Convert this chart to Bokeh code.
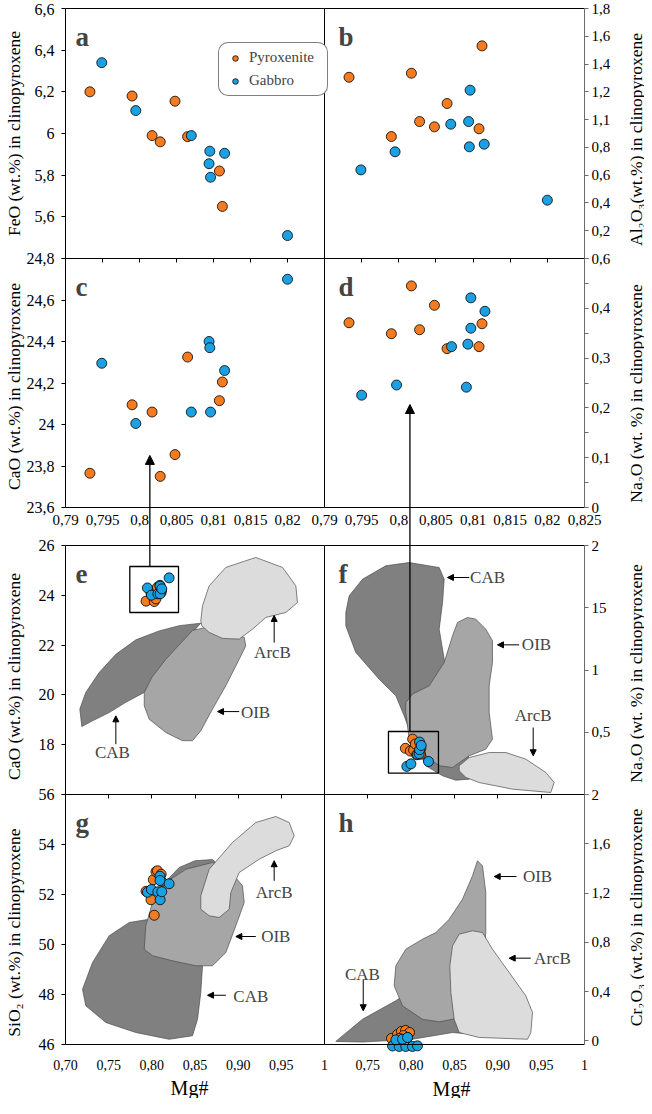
from bokeh.plotting import figure
from bokeh.models import (Range1d, LinearAxis, FixedTicker, Label, Arrow,
                          NormalHead, Legend, LegendItem, Grid)
from bokeh.embed import file_html
from bokeh.resources import INLINE

# ---------------- data ----------------
mg_pyx = [0.7933, 0.7990, 0.8017, 0.8028, 0.8048, 0.8065, 0.8108, 0.8112]
mg_gab = [0.7949, 0.7995, 0.8070, 0.8094, 0.8095, 0.8096, 0.8115, 0.8200]

feo_pyx = [6.20, 6.18, 5.99, 5.96, 6.155, 5.985, 5.82, 5.65]
feo_gab = [6.34, 6.11, 5.99, 5.855, 5.915, 5.79, 5.905, 5.51]

al2o3_pyx = [1.305, 0.878, 1.334, 0.986, 0.948, 1.116, 0.934, 1.531]
al2o3_gab = [0.638, 0.768, 0.967, 0.986, 0.804, 1.212, 0.823, 0.420]

cao_pyx = [23.765, 24.095, 24.06, 23.75, 23.855, 24.325, 24.115, 24.205]
cao_gab = [24.295, 24.005, 24.06, 24.40, 24.37, 24.06, 24.26, 24.70]

na2o_pyx = [0.371, 0.349, 0.445, 0.357, 0.406, 0.319, 0.323, 0.369]
mg_gab_d = [0.7950, 0.7997, 0.8071, 0.8091, 0.8093, 0.8097, 0.8097, 0.8116]
na2o_gab_d = [0.2255, 0.246, 0.323, 0.2416, 0.328, 0.421, 0.360, 0.394]
mg_gab_f = [0.7950, 0.7997, 0.8071, 0.8200, 0.8093, 0.8097, 0.8097, 0.8116]
na2o_gab_f = [0.2255, 0.246, 0.323, 0.265, 0.328, 0.421, 0.360, 0.394]

sio2_pyx = [52.13, 51.79, 52.59, 51.17, 52.91, 52.95, 52.81, 52.53]
sio2_gab = [52.09, 52.20, 52.11, 52.73, 52.56, 51.79, 52.11, 52.43]

mg_pyx_h = [0.7773, 0.7842, 0.7888, 0.7935, 0.7981, 0.7912, 0.7958, 0.7865]
cr2o3_pyx = [0.019, 0.051, 0.076, 0.084, 0.067, 0.043, 0.027, 0.019]
mg_gab_h = [0.7785, 0.7862, 0.7938, 0.8015, 0.8073, 0.7823, 0.7900, 0.7958]
cr2o3_gab = [-0.042, -0.046, -0.046, -0.046, -0.041, 0.008, 0.013, 0.027]

# discrimination fields (Mg#, oxide)
e_cab_x = [0.7189, 0.7166, 0.7235, 0.7390, 0.7583, 0.7815, 0.8085, 0.8317, 0.8567,
           0.8471, 0.8162, 0.7912, 0.7698, 0.7506, 0.7313]
e_cab_y = [18.73, 19.43, 20.10, 20.90, 21.63, 22.21, 22.57, 22.78, 22.88,
           22.51, 21.43, 20.10, 19.70, 19.29, 18.96]
e_oib_x = [0.8471, 0.8162, 0.8000, 0.7912, 0.7912, 0.7970, 0.8162, 0.8355, 0.8471,
           0.8567, 0.8703, 0.8857, 0.9012, 0.9088, 0.9070, 0.8973, 0.8800, 0.8625]
e_oib_y = [22.59, 21.43, 20.70, 20.10, 19.56, 19.02, 18.49, 18.16, 18.16,
           18.56, 19.43, 20.37, 21.43, 21.97, 22.31, 22.44, 22.55, 22.71]
e_arc_x = [0.8567, 0.8587, 0.8664, 0.8857, 0.9204, 0.9514, 0.9668, 0.9687,
           0.9552, 0.9320, 0.9166, 0.9012, 0.8819, 0.8664, 0.8579]
e_arc_y = [22.98, 23.58, 24.38, 25.12, 25.52, 25.12, 24.38, 23.71,
           23.31, 23.11, 22.64, 22.24, 22.27, 22.51, 22.78]

f_cab_x = [0.7977, 0.8323, 0.8381, 0.8362, 0.8323, 0.8381, 0.8592, 0.8708, 0.8670,
           0.8515, 0.8362, 0.8169, 0.7977, 0.7919, 0.7823, 0.7631, 0.7361, 0.7246,
           0.7246, 0.7285, 0.7438, 0.7707]
f_cab_y = [1.863, 1.823, 1.729, 1.542, 1.328, 1.087, 0.498, 0.177, 0.123,
           0.115, 0.150, 0.231, 0.524, 0.632, 0.793, 0.926, 1.141, 1.355,
           1.462, 1.596, 1.729, 1.837]
f_oib_x = [0.8650, 0.8746, 0.8861, 0.8938, 0.8938, 0.8900, 0.8900, 0.8938, 0.8861,
           0.8670, 0.8477, 0.8323, 0.8131, 0.7977, 0.7938, 0.7938, 0.8015, 0.8208,
           0.8381, 0.8477, 0.8535]
f_oib_y = [1.422, 1.408, 1.328, 1.235, 1.060, 0.873, 0.659, 0.444, 0.364,
           0.311, 0.217, 0.231, 0.337, 0.444, 0.659, 0.739, 0.806, 0.873,
           1.060, 1.275, 1.382]
f_arc_x = [0.8554, 0.8669, 0.8900, 0.9092, 0.9323, 0.9554, 0.9650, 0.9611,
           0.9169, 0.8785, 0.8631, 0.8554]
f_arc_y = [0.231, 0.297, 0.337, 0.337, 0.284, 0.177, 0.096, 0.016,
           0.043, 0.096, 0.137, 0.190]

g_cab_x = [0.7197, 0.7313, 0.7506, 0.7738, 0.7969, 0.8100, 0.8317, 0.8500, 0.8703,
           0.8795, 0.8645, 0.8587, 0.8567, 0.8529, 0.8471, 0.8201, 0.7814, 0.7467, 0.7235]
g_cab_y = [48.21, 49.28, 50.35, 50.88, 51.01, 52.30, 53.08, 53.35, 53.40,
           53.10, 49.68, 49.15, 48.08, 47.01, 46.35, 46.21, 46.48, 46.88, 47.55]
g_oib_x = [0.7912, 0.7930, 0.8008, 0.8162, 0.8394, 0.8703, 0.8857, 0.9050, 0.9070,
           0.8973, 0.8857, 0.8703, 0.8510, 0.8239, 0.8008]
g_oib_y = [49.81, 50.75, 51.68, 52.48, 53.01, 53.28, 53.15, 52.35, 51.68,
           50.75, 49.68, 49.15, 49.15, 49.35, 49.55]
g_arc_x = [0.8567, 0.8567, 0.8664, 0.8934, 0.9204, 0.9436, 0.9591, 0.9649, 0.9591,
           0.9436, 0.9243, 0.9012, 0.8915, 0.8896, 0.8780, 0.8664]
g_arc_y = [51.41, 51.95, 53.01, 54.08, 54.88, 55.12, 54.88, 54.35, 53.95,
           53.75, 53.41, 52.88, 52.08, 51.41, 51.08, 51.15]

h_cab_x = [0.7130, 0.7438, 0.7823, 0.8131, 0.8419, 0.8600, 0.8600, 0.8477, 0.8015, 0.7438]
h_cab_y = [-0.005, 0.175, 0.325, 0.473, 0.514, 0.200, 0.060, 0.067, 0.013, -0.010]
h_oib_x = [0.8765, 0.8823, 0.8861, 0.8861, 0.8823, 0.8592, 0.8477, 0.8323, 0.8131,
           0.7900, 0.7804, 0.7823, 0.7938, 0.8131, 0.8285, 0.8439, 0.8592, 0.8708]
h_oib_y = [1.462, 1.421, 1.204, 0.879, 0.555, 0.230, 0.175, 0.154, 0.175,
           0.284, 0.447, 0.609, 0.744, 0.825, 0.879, 0.987, 1.150, 1.340]
h_arc_x = [0.8477, 0.8554, 0.8708, 0.8823, 0.8938, 0.9131, 0.9323, 0.9400, 0.9381,
           0.9342, 0.8785, 0.8554, 0.8496, 0.8458, 0.8446]
h_arc_y = [0.771, 0.866, 0.893, 0.879, 0.744, 0.555, 0.365, 0.230, 0.067,
           0.013, 0.027, 0.067, 0.175, 0.392, 0.609]

# zoom boxes (Mg#, oxide)
box_e = (0.7745, 0.8309, 23.31, 25.157)
box_f = (0.7738, 0.8315, 0.171, 0.506)

# ticks and tick labels
ticks_a_y = [5.4, 5.6, 5.8, 6.0, 6.2, 6.4, 6.6]
labels_a_y = [" ", "5,6", "5,8", "6", "6,2", "6,4", "6,6"]
ticks_c_y = [23.6, 23.8, 24.0, 24.2, 24.4, 24.6, 24.8]
labels_c_y = ["23,6", "23,8", "24", "24,2", "24,4", "24,6", "24,8"]
ticks_e_y = [16, 18, 20, 22, 24, 26]
labels_e_y = [" ", "18", "20", "22", "24", "26"]
ticks_g_y = [46, 48, 50, 52, 54, 56]
labels_g_y = ["46", "48", "50", "52", "54", "56"]
ticks_b_y = [0.0, 0.2, 0.4, 0.6, 0.8, 1.0, 1.2, 1.4, 1.6, 1.8]
labels_b_y = ["0,6", "0,2", "0,4", "0,6", "0,8", "1,1", "1,2", "1,4", "1,6", "1,8"]
ticks_d_y = [0.0, 0.05, 0.1, 0.15, 0.2, 0.25, 0.3, 0.35, 0.4, 0.45, 0.5]
labels_d_y = ["0", " ", "0,1", " ", "0,2", " ", "0,3", " ", "0,4", " ", " "]
ticks_f_y = [0.0, 0.5, 1.0, 1.5, 2.0]
labels_f_y = [" ", "0,5", "1", "15", "2"]
ticks_h_y = [0.0, 0.4, 0.8, 1.2, 1.6, 2.0]
labels_h_y = ["0", "0,4", "0,8", "1,2", "1,6", "2"]
ticks_top_x = [0.795, 0.8, 0.805, 0.81, 0.815, 0.82]
ticks_c_x = [0.79, 0.795, 0.8, 0.805, 0.81, 0.815, 0.82]
labels_c_x = ["0,79", "0,795", "0,8", "0,805", "0,81", "0,815", "0,82"]
ticks_d_x = [0.79, 0.795, 0.8, 0.805, 0.81, 0.815, 0.82, 0.825]
labels_d_x = ["0,79", "0,795", "0,8", "0,805", "0,81", "0,815", "0,82", "0,825"]
ticks_ef_x = [0.75, 0.8, 0.85, 0.9, 0.95]
ticks_g_x = [0.70, 0.75, 0.80, 0.85, 0.90, 0.95]
labels_g_x = ["0,70", "0,75", "0,80", "0,85", "0,90", "0,95"]
ticks_h_x = [0.70, 0.75, 0.80, 0.85, 0.90, 0.95, 1.0]
labels_h_x = ["1", "0,75", "0,80", "0,85", "0,90", "0,95", "1"]

# ---------------- styling / layout ----------------
ORANGE = "#F47B20"
BLUE = "#1BA1E2"
CAB_C, OIB_C, ARC_C = "#808080", "#A6A6A6", "#DCDCDC"
SERIF = "Liberation Serif"

W, H = 644, 1098
PX0, PY0 = 8, 8
PX1, PY1 = PX0 + W, PY0 + H

# panel frames in page pixels and their data extents
panels = {
    "a": dict(px=(73, 332), py=(16, 266), xr=(0.79, 0.825), yr=(5.4, 6.6)),
    "b": dict(px=(332, 592), py=(16, 266), xr=(0.79, 0.825), yr=(0.0, 1.8)),
    "c": dict(px=(73, 332), py=(266, 515), xr=(0.79, 0.825), yr=(23.6, 24.8)),
    "d": dict(px=(332, 592), py=(266, 515), xr=(0.79, 0.825), yr=(0.0, 0.5)),
    "e": dict(px=(73, 332), py=(553, 802), xr=(0.70, 1.00), yr=(16.0, 26.0)),
    "f": dict(px=(332, 592), py=(553, 802), xr=(0.70, 1.00), yr=(0.0, 2.0)),
    "g": dict(px=(73, 332), py=(802, 1052), xr=(0.70, 1.00), yr=(46.0, 56.0)),
    "h": dict(px=(332, 592), py=(802, 1052), xr=(0.70, 1.00), yr=(-0.03, 2.0)),
}

p = figure(width=W, height=H, x_range=Range1d(PX0, PX1), y_range=Range1d(PY1, PY0),
           x_axis_location=None, y_axis_location=None, toolbar_location=None,
           output_backend="svg", min_border=0, outline_line_color=None,
           background_fill_color="white", border_fill_color="white")
for g in p.select({"type": Grid}):
    g.visible = False
p.xgrid.visible = False
p.ygrid.visible = False

exr, eyr = {}, {}
for k, P in panels.items():
    (X0, X1), (Y0, Y1), (d0, d1), (e0, e1) = P["px"], P["py"], P["xr"], P["yr"]
    s = (d1 - d0) / (X1 - X0)
    exr[k] = Range1d(d0 - (X0 - PX0) * s, d0 + (PX1 - X0) * s)
    t = (e1 - e0) / (Y1 - Y0)
    eyr[k] = Range1d(e0 - (PY1 - Y1) * t, e0 + (Y1 - PY0) * t)
p.extra_x_ranges = exr
p.extra_y_ranges = eyr


def add_axis(panel, side, ticks=(), labels=None, tick_out=0, color="black",
             font_size="15px", standoff=6, label_color="black"):
    P = panels[panel]
    d0, d1 = P["xr"]
    e0, e1 = P["yr"]
    if side in ("left", "right"):
        loc = d0 if side == "left" else d1
        lo, hi = e0, e1
    else:
        loc = e0 if side == "below" else e1
        lo, hi = d0, d1
    eps = (hi - lo) * 1e-6
    ax = LinearAxis(x_range_name=panel, y_range_name=panel, fixed_location=loc,
                    bounds=(lo - eps, hi + eps),
                    ticker=FixedTicker(ticks=list(ticks), minor_ticks=[]),
                    major_tick_out=tick_out, major_tick_in=0,
                    minor_tick_line_color=None,
                    axis_line_color=color, axis_line_width=1,
                    major_tick_line_color=(color if tick_out else None),
                    major_label_standoff=standoff,
                    major_label_text_font=SERIF,
                    major_label_text_font_size=font_size,
                    major_label_text_color=label_color)
    if labels is None:
        ax.major_label_text_color = None
    else:
        ax.major_label_overrides = dict(zip(ticks, labels))
    p.add_layout(ax, side)


def fields(panel, cab, oib, arc):
    for (xs, ys), col in ((cab, CAB_C), (oib, OIB_C), (arc, ARC_C)):
        p.patch(xs, ys, x_range_name=panel, y_range_name=panel, fill_color=col,
                line_color="#4d4d4d", line_width=0.7)


fields("e", (e_cab_x, e_cab_y), (e_oib_x, e_oib_y), (e_arc_x, e_arc_y))
fields("f", (f_cab_x, f_cab_y), (f_oib_x, f_oib_y), (f_arc_x, f_arc_y))
fields("g", (g_cab_x, g_cab_y), (g_oib_x, g_oib_y), (g_arc_x, g_arc_y))
fields("h", (h_cab_x, h_cab_y), (h_oib_x, h_oib_y), (h_arc_x, h_arc_y))


def pts(panel, x, y, color):
    return p.scatter(x, y, x_range_name=panel, y_range_name=panel, marker="circle",
                     size=10, fill_color=color, line_color="black", line_width=0.8)


r_pyx = pts("a", mg_pyx, feo_pyx, ORANGE)
r_gab = pts("a", mg_gab, feo_gab, BLUE)
pts("b", mg_pyx, al2o3_pyx, ORANGE); pts("b", mg_gab, al2o3_gab, BLUE)
pts("c", mg_pyx, cao_pyx, ORANGE); pts("c", mg_gab, cao_gab, BLUE)
pts("d", mg_pyx, na2o_pyx, ORANGE); pts("d", mg_gab_d, na2o_gab_d, BLUE)
pts("e", mg_pyx, cao_pyx, ORANGE); pts("e", mg_gab, cao_gab, BLUE)
pts("f", mg_pyx, na2o_pyx, ORANGE); pts("f", mg_gab_f, na2o_gab_f, BLUE)
pts("g", mg_pyx, sio2_pyx, ORANGE); pts("g", mg_gab, sio2_gab, BLUE)
pts("h", mg_pyx_h, cr2o3_pyx, ORANGE); pts("h", mg_gab_h, cr2o3_gab, BLUE)

for panel, (l, r, b, t) in (("e", box_e), ("f", box_f)):
    p.quad(left=[l], right=[r], bottom=[b], top=[t], x_range_name=panel,
           y_range_name=panel, fill_color=None, line_color="black", line_width=1.3)

# ---------------- axes ----------------
GRAY = "#6b6b6b"
add_axis("a", "left", ticks_a_y, labels_a_y, tick_out=4, font_size="16px", standoff=7)
add_axis("c", "left", ticks_c_y, labels_c_y, tick_out=4, font_size="16px", standoff=7)
add_axis("e", "left", ticks_e_y, labels_e_y, tick_out=4, font_size="16px", standoff=7)
add_axis("g", "left", ticks_g_y, labels_g_y, tick_out=4, font_size="16px", standoff=7)
add_axis("b", "right", ticks_b_y, labels_b_y, tick_out=4, color=GRAY, font_size="15px", standoff=3)
add_axis("d", "right", ticks_d_y, labels_d_y, tick_out=4, color=GRAY, font_size="15px", standoff=3)
add_axis("f", "right", ticks_f_y, labels_f_y, tick_out=4, color=GRAY, font_size="15px", standoff=3)
add_axis("h", "right", ticks_h_y, labels_h_y, tick_out=4, color=GRAY, font_size="15px", standoff=3)
for k in ("a", "c", "e", "g"):
    add_axis(k, "right")
for k in ("a", "b", "e", "f"):
    add_axis(k, "above")
add_axis("a", "below", ticks_top_x, None, tick_out=4)
add_axis("b", "below", ticks_top_x, None, tick_out=4)
add_axis("e", "below", ticks_ef_x, None, tick_out=4)
add_axis("f", "below", ticks_ef_x, None, tick_out=4)
add_axis("c", "below", ticks_c_x, labels_c_x, font_size="15px", standoff=7)
add_axis("d", "below", ticks_d_x, labels_d_x, font_size="15px", standoff=7)
add_axis("g", "below", ticks_g_x, labels_g_x, font_size="14px", standoff=15)
add_axis("h", "below", ticks_h_x, labels_h_x, font_size="14px", standoff=15)

# ---------------- texts ----------------
def title(x, y, text, angle=90, size="17.5px"):
    p.add_layout(Label(x=x, y=y, text=text, angle=angle, angle_units="deg",
                       text_align="center", text_baseline="middle",
                       text_font=SERIF, text_font_size=size, text_color="black"))


title(21, 141, "FeO (wt.%) in clinopyroxene")
title(21, 394, "CaO (wt.%) in clinopyroxene")
title(21, 684, "CaO (wt.%) in clinopyroxene")
title(21, 940, "SiO\u2082 (wt.%) in clinopyroxene")
title(643, 147, "Al\u2082O\u2083(wt.%) in clinopyroxene")
title(643, 401, "Na\u2082O (wt. %) in clinopyroxene")
title(643, 681, "Na\u2082O (wt. %) in clinopyroxene")
title(643, 925, "Cr\u2082O\u2083 (wt.%) in clinopyroxene")
title(197, 1095, "Mg#", angle=0, size="20px")
title(459, 1096, "Mg#", angle=0, size="20px")

for k in panels:
    (X0, X1), (Y0, Y1) = panels[k]["px"], panels[k]["py"]
    dx = 10 if X0 < 300 else 14
    p.add_layout(Label(x=X0 + dx, y=Y0 + 28, text=k, text_font=SERIF,
                       text_font_style="bold", text_font_size="27px",
                       text_baseline="alphabetic", text_align="left"))

field_labels = {
    "e": [("ArcB", 0.9398, 21.70, (0.9417, 22.10, 0.9417, 23.19)),
          ("OIB", 0.9201, 19.29, (0.9012, 19.33, 0.8761, 19.33)),
          ("CAB", 0.7544, 17.69, (0.7583, 18.02, 0.7583, 19.16))],
    "f": [("CAB", 0.8881, 1.743, (0.8670, 1.743, 0.8419, 1.743)),
          ("OIB", 0.9446, 1.207, (0.9246, 1.202, 0.8996, 1.202)),
          ("ArcB", 0.9408, 0.632, (0.9408, 0.538, 0.9408, 0.311))],
    "g": [("ArcB", 0.9417, 52.08, (0.9417, 52.55, 0.9417, 53.35)),
          ("OIB", 0.9436, 50.32, (0.9204, 50.32, 0.8973, 50.32)),
          ("CAB", 0.9146, 47.92, (0.8857, 47.97, 0.8645, 47.97))],
    "h": [("OIB", 0.9458, 1.334, (0.9215, 1.334, 0.8958, 1.334)),
          ("ArcB", 0.9631, 0.671, (0.9380, 0.671, 0.9131, 0.671)),
          ("CAB", 0.7438, 0.541, (0.7447, 0.500, 0.7447, 0.244))],
}
for k, items in field_labels.items():
    for txt, tx, ty, (x0, y0, x1, y1) in items:
        p.add_layout(Label(x=tx, y=ty, text=txt, x_range_name=k, y_range_name=k,
                           text_align="center", text_baseline="middle",
                           text_font=SERIF, text_font_size="17px"))
        p.add_layout(Arrow(x_start=x0, y_start=y0, x_end=x1, y_end=y1,
                           x_range_name=k, y_range_name=k, line_width=1,
                           end=NormalHead(size=6, fill_color="black", line_color="black")))

p.add_layout(Arrow(x_start=0.8014, y_start=23.316, x_end=0.8014, y_end=23.851,
                   x_range_name="c", y_range_name="c", line_width=1.3,
                   end=NormalHead(size=9, fill_color="black", line_color="black")))
p.add_layout(Arrow(x_start=0.8015, y_start=-0.4498, x_end=0.8015, y_end=0.2068,
                   x_range_name="d", y_range_name="d", line_width=1.3,
                   end=NormalHead(size=9, fill_color="black", line_color="black")))

legend = Legend(items=[LegendItem(label="Pyroxenite", renderers=[r_pyx]),
                       LegendItem(label="Gabbro", renderers=[r_gab])],
                location=(218, 1002), orientation="vertical",
                label_text_font=SERIF, label_text_font_size="15px",
                glyph_width=20, glyph_height=14, label_standoff=4,
                label_width=72, padding=6, spacing=6, margin=0,
                border_line_color="black", border_line_width=1,
                background_fill_color="white", background_fill_alpha=1)
if "border_radius" in Legend.properties():
    legend.border_radius = 10
p.add_layout(legend, "center")

open("out.html", "w").write(file_html(p, INLINE))
